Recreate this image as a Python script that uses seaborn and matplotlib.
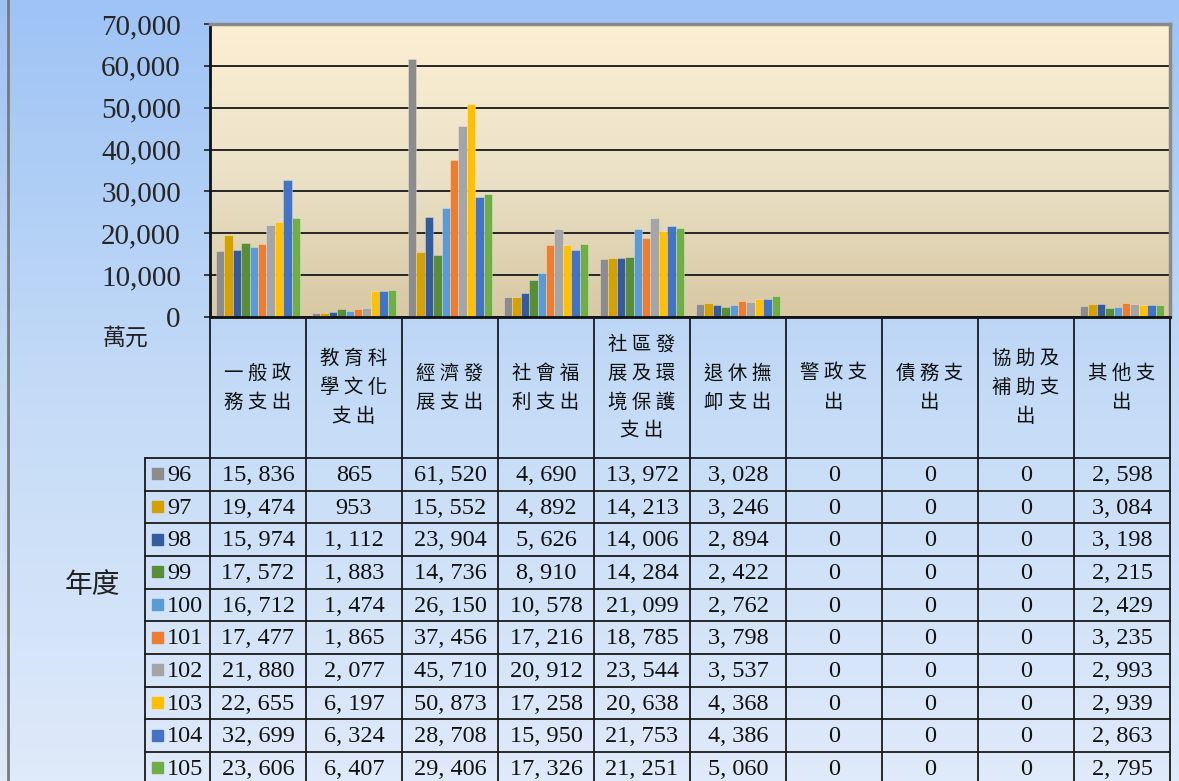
import numpy as np
import pandas as pd
import seaborn as sns
import matplotlib as mpl
mpl.use('Agg')
import matplotlib.pyplot as plt
from matplotlib.colors import LinearSegmentedColormap

# datos
categorias = ['一般政務支出', '教育科學文化支出', '經濟發展支出', '社會福利支出',
              '社區發展及環境保護支出', '退休撫卹支出', '警政支出', '債務支出',
              '協助及補助支出', '其他支出']
encabezados = ['一般政\n務支出', '教育科\n學文化\n支出', '經濟發\n展支出', '社會福\n利支出',
               '社區發\n展及環\n境保護\n支出', '退休撫\n卹支出', '警政支\n出', '債務支\n出',
               '協助及\n補助支\n出', '其他支\n出']
anios = ['96', '97', '98', '99', '100', '101', '102', '103', '104', '105']
v96 = [15836, 865, 61520, 4690, 13972, 3028, 0, 0, 0, 2598]
v97 = [19474, 953, 15552, 4892, 14213, 3246, 0, 0, 0, 3084]
v98 = [15974, 1112, 23904, 5626, 14006, 2894, 0, 0, 0, 3198]
v99 = [17572, 1883, 14736, 8910, 14284, 2422, 0, 0, 0, 2215]
v100 = [16712, 1474, 26150, 10578, 21099, 2762, 0, 0, 0, 2429]
v101 = [17477, 1865, 37456, 17216, 18785, 3798, 0, 0, 0, 3235]
v102 = [21880, 2077, 45710, 20912, 23544, 3537, 0, 0, 0, 2993]
v103 = [22655, 6197, 50873, 17258, 20638, 4368, 0, 0, 0, 2939]
v104 = [32699, 6324, 28708, 15950, 21753, 4386, 0, 0, 0, 2863]
v105 = [23606, 6407, 29406, 17326, 21251, 5060, 0, 0, 0, 2795]
colores = ['#8c8c8c', '#d4a100', '#335b9e', '#5a8d38', '#5b9bd5',
           '#ed7d31', '#a5a5a5', '#ffc000', '#4472c4', '#70ad47']

valores = [v96, v97, v98, v99, v100, v101, v102, v103, v104, v105]
filas = []
for anio, vals in zip(anios, valores):
    for cat, v in zip(categorias, vals):
        filas.append({'categoria': cat, 'anio': anio, 'valor': v})
df = pd.DataFrame(filas)

sns.set_theme(style='white')
plt.rcParams['font.family'] = ['Liberation Serif', 'Noto Sans CJK TC']
cjk = ['Noto Sans CJK TC', 'DejaVu Sans']

W, H = 1179, 781
fig = plt.figure(figsize=(W / 100, H / 100), dpi=100)

# fondo degradado
ax_bg = fig.add_axes([0, 0, 1, 1], zorder=-10)
cmap_bg = LinearSegmentedColormap.from_list('bg', ['#9ec3f5', '#c4dbf7', '#dfeafa'])
ax_bg.imshow(np.linspace(0, 1, 256).reshape(-1, 1), cmap=cmap_bg, aspect='auto',
             extent=[0, 1, 0, 1])
ax_bg.set_axis_off()

# grafico
x0, x1, y0, y1 = 210, 1170, 24, 317
ax = fig.add_axes([x0 / W, 1 - y1 / H, (x1 - x0) / W, (y1 - y0) / H], zorder=1)
sns.barplot(data=df, x='categoria', y='valor', hue='anio', order=categorias,
            hue_order=anios, palette=colores, saturation=1, width=0.88,
            linewidth=0.6, edgecolor=(1, 1, 1, 0.35), legend=False, ax=ax)
cmap_pa = LinearSegmentedColormap.from_list('pa', ['#d8c8a3', '#ece2c8', '#fdefd3'])
ax.imshow(np.linspace(0, 1, 256).reshape(-1, 1), cmap=cmap_pa, aspect='auto',
          origin='lower', extent=[0, 1, 0, 1], transform=ax.transAxes, zorder=-1)
ax.set_xlim(-0.5, 9.5)
ax.set_ylim(0, 70000)
ax.set_yticks(range(0, 70001, 10000))
ax.set_yticklabels([f'{t:,}' for t in range(0, 70001, 10000)], fontsize=21,
                   family='Liberation Serif')
ax.set_xticks([])
ax.set_xlabel('')
ax.set_ylabel('')
ax.yaxis.grid(True, color='#262626', linewidth=1.4)
ax.set_axisbelow(True)
ax.tick_params(axis='y', left=True, length=4, width=1.2, color='#222222', pad=17)
for s in ['left', 'bottom']:
    ax.spines[s].set_color('#111111')
    ax.spines[s].set_linewidth(2)
for s in ['top', 'right']:
    ax.spines[s].set_color('#8a8a8a')
    ax.spines[s].set_linewidth(2.5)

# tabla de datos
ax_t = fig.add_axes([0, 0, 1, 1], zorder=2)
ax_t.set_xlim(0, W)
ax_t.set_ylim(H, 0)
ax_t.set_axis_off()
ax_t.patch.set_alpha(0)

ax_t.plot([8, 8], [0, H], color='#7a7a7a', lw=2)

col_x = np.linspace(x0, x1, len(categorias) + 1)
header_bottom = 458
row_h = (752 - 458) / 9
lc = '#1a1a1a'
for cx in col_x:
    ax_t.plot([cx, cx], [y1, H], color=lc, lw=1.3)
ax_t.plot([145, 145], [header_bottom, H], color=lc, lw=1.3)
for i in range(len(anios) + 1):
    yy = header_bottom + i * row_h
    ax_t.plot([145, x1], [yy, yy], color=lc, lw=1.3)

for i, txt in enumerate(encabezados):
    cx = (col_x[i] + col_x[i + 1]) / 2
    espaciado = '\n'.join(' '.join(linea) for linea in txt.split('\n'))
    ax_t.text(cx, (y1 + header_bottom) / 2, espaciado, ha='center', va='center',
              fontsize=14, family=cjk, linespacing=1.5, color='#111111')

for r, (anio, vals) in enumerate(zip(anios, valores)):
    cy = header_bottom + (r + 0.5) * row_h
    ax_t.add_patch(plt.Rectangle((152, cy - 6), 11, 11, color=colores[r]))
    ax_t.text(167, cy + 1, anio, ha='left', va='center', fontsize=17.5,
              family='Liberation Serif', color='#111111')
    for c, v in enumerate(vals):
        cx = (col_x[c] + col_x[c + 1]) / 2
        ax_t.text(cx, cy + 1, f'{v:,}'.replace(',', ', '), ha='center', va='center',
                  fontsize=17.5, family='Liberation Serif', color='#111111')

ax_t.text(125, 338, '萬元', ha='center', va='center', fontsize=16.5, family=cjk,
          color='#222222')
ax_t.text(92, 585, '年度', ha='center', va='center', fontsize=20, family=cjk,
          color='#222222')

fig.savefig('out.png', dpi=100)
